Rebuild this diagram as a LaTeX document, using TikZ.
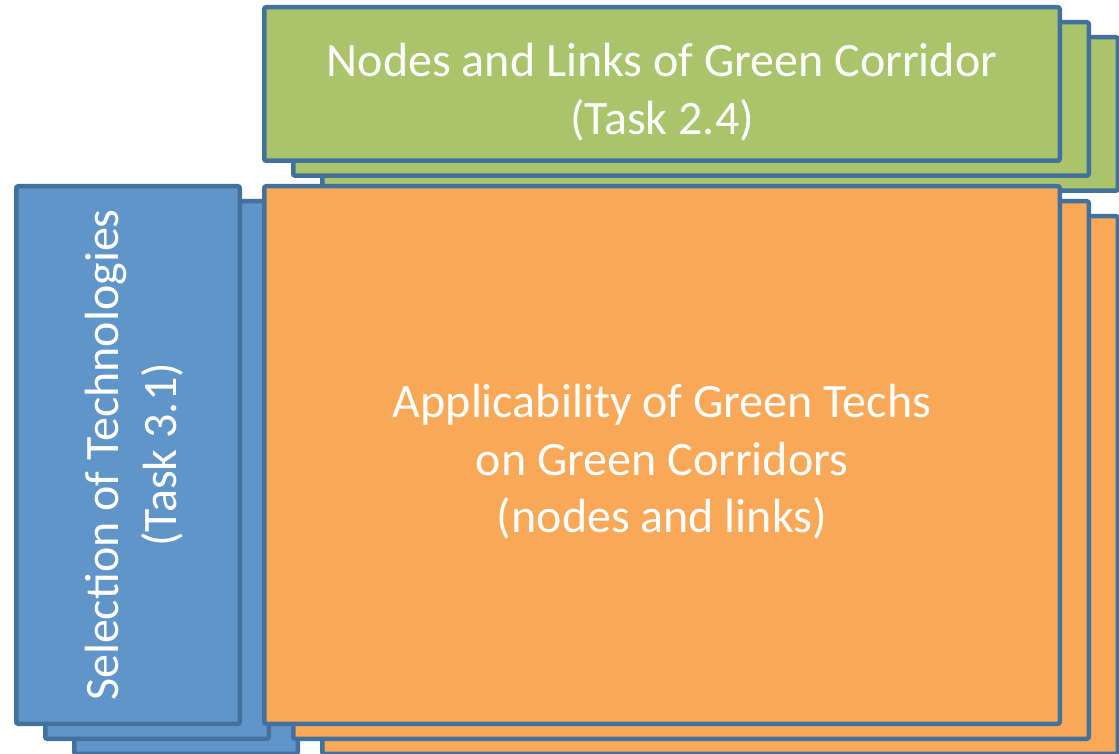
\documentclass[tikz,border=0pt]{standalone}
\usepackage{fontspec}
\setmainfont{Carlito}
\definecolor{edgeblue}{HTML}{41719C}
\definecolor{leaf}{HTML}{AAC46B}
\definecolor{amber}{HTML}{F9A857}
\definecolor{steel}{HTML}{6095C9}
\begin{document}
\begin{tikzpicture}[x=1pt,y=-1pt]
\useasboundingbox (0,0) rectangle (1119,754);
\tikzset{
  card/.style={draw=edgeblue, line width=4.5pt, rounded corners=2pt, inner sep=0pt},
  wide/.style={card, minimum width=795.5pt},
  narrow/.style={card, minimum width=223.5pt},
  short/.style={minimum height=153.5pt},
  tall/.style={minimum height=537.5pt},
  caption/.style={text=white, align=center, font=\fontsize{48}{57.5}\selectfont}
}
% Technologies stack (back to front)
\node[narrow, tall, fill=steel] (b3) at (186,485) {};
\node[narrow, tall, fill=steel] (b2) at (157,470) {};
\node[narrow, tall, fill=steel] (b1) at (128,455) {};
\node[caption, rotate=90] (btext) at ([xshift=6pt]b1.center) {Selection of Technologies\\(Task 3.1)};
% Corridor stack
\node[wide, short, fill=leaf] (g3) at (720,114) {};
\node[wide, short, fill=leaf] (g2) at (691,99) {};
\node[wide, short, fill=leaf] (g1) at (662,84) {};
\node[caption] (gtext) at ([yshift=-8pt]g1.center) {Nodes and Links of Green Corridor\\(Task 2.4)};
% Applicability stack
\node[wide, tall, fill=amber] (o3) at (720,485) {};
\node[wide, tall, fill=amber] (o2) at (691,470) {};
\node[wide, tall, fill=amber] (o1) at (662,455) {};
\node[caption] (otext) at ([yshift=-7pt]o1.center) {Applicability of Green Techs\\on Green Corridors\\(nodes and links)};
\end{tikzpicture}
\end{document}
